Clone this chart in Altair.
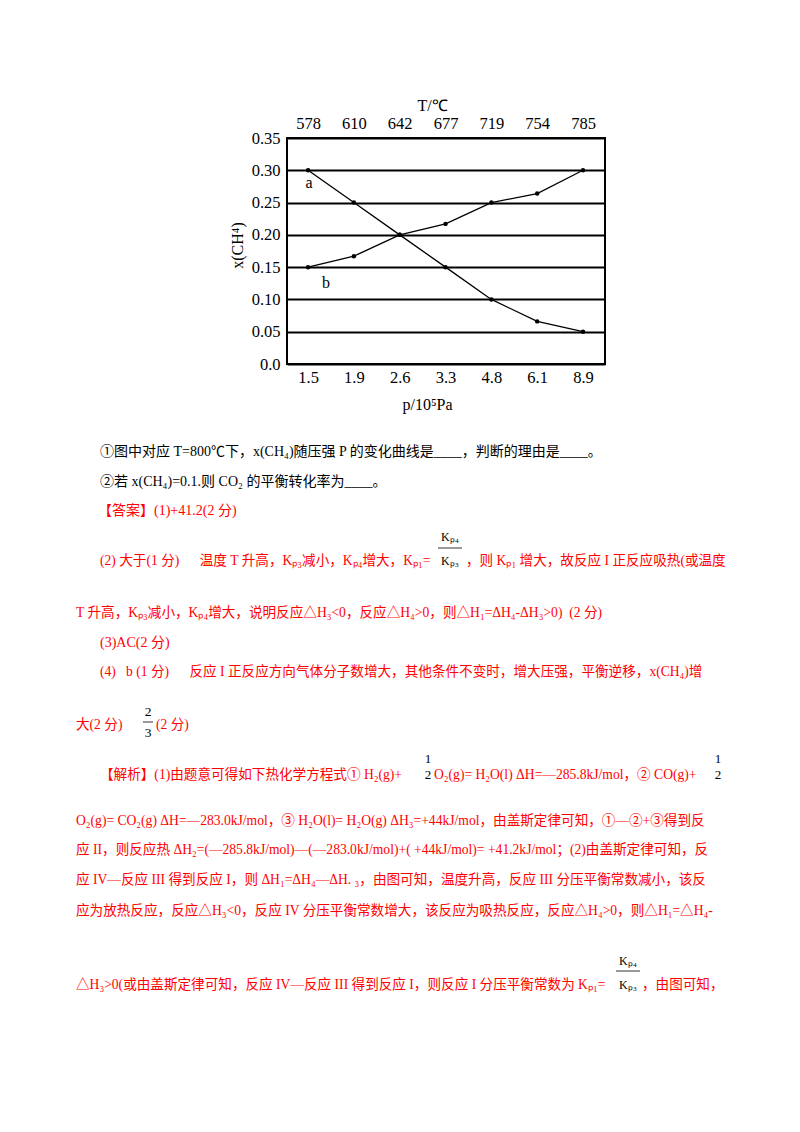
import json
import altair as alt
import pandas as pd

# ---------------- data ----------------
pressures = ["1.5", "1.9", "2.6", "3.3", "4.8", "6.1", "8.9"]
temperatures = ["578", "610", "642", "677", "719", "754", "785"]
curve_a = [0.30, 0.25, 0.20, 0.15, 0.10, 0.066, 0.05]
curve_b = [0.15, 0.167, 0.20, 0.217, 0.25, 0.264, 0.30]
curve_names = ["a", "b"]
y_ticks = [0.0, 0.05, 0.10, 0.15, 0.20, 0.25, 0.30, 0.35]

x_title = "p/10⁵Pa"
top_title = "T/℃"
y_title = "x(CH⁴)"

NB = "\u00a0"
# page text (content only)
txt_q1 = "①图中对应 T=800℃下，x(CH₄)随压强 P 的变化曲线是____，判断的理由是____。"
txt_q2 = "②若 x(CH₄)=0.1.则 CO₂ 的平衡转化率为____。"
txt_ans1 = "【答案】(1)+41.2(2 分)"
txt_ans2a = "(2) 大于(1 分)" + NB * 6 + "温度 T 升高，Kₚ₃减小，Kₚ₄增大，Kₚ₁="
txt_ans2b = "，则 Kₚ₁ 增大，故反应 I 正反应吸热(或温度"
txt_ans2c = "T 升高，Kₚ₃减小，Kₚ₄增大，说明反应△H₃<0，反应△H₄>0，则△H₁=ΔH₄-ΔH₃>0)" + NB * 2 + "(2 分)"
txt_ans3 = "(3)AC(2 分)"
txt_ans4a = "(4)" + NB * 3 + "b (1 分)" + NB * 6 + "反应 I 正反应方向气体分子数增大，其他条件不变时，增大压强，平衡逆移，x(CH₄)增"
txt_ans4b = "大(2 分)"
txt_ans4c = "(2 分)"
frac_23 = ["2", "3"]
frac_12 = ["1", "2"]
frac_k = ["Kₚ₄", "Kₚ₃"]
txt_j1a = "【解析】(1)由题意可得如下热化学方程式① H₂(g)+"
txt_j1b = "O₂(g)= H₂O(l) ΔH=—285.8kJ/mol，② CO(g)+"
txt_j2 = "O₂(g)= CO₂(g) ΔH=—283.0kJ/mol，③ H₂O(l)= H₂O(g) ΔH₃=+44kJ/mol，由盖斯定律可知，①—②+③得到反"
txt_j3 = "应 II，则反应热 ΔH₂=(—285.8kJ/mol)—(—283.0kJ/mol)+( +44kJ/mol)= +41.2kJ/mol；(2)由盖斯定律可知，反"
txt_j4 = "应 IV—反应 III 得到反应 I，则 ΔH₁=ΔH₄—ΔH. ₃，由图可知，温度升高，反应 III 分压平衡常数减小，该反"
txt_j5 = "应为放热反应，反应△H₃<0，反应 IV 分压平衡常数增大，该反应为吸热反应，反应△H₄>0，则△H₁=△H₄-"
txt_j6a = "△H₃>0(或由盖斯定律可知，反应 IV—反应 III 得到反应 I，则反应 I 分压平衡常数为 Kₚ₁="
txt_j6b = "，由图可知，"

# ---------------- layout ----------------
PLOT_LEFT, PLOT_TOP, W, H = 287, 138, 318, 226
SERIF = "'Liberation Serif'"
BODY = "'Liberation Serif', 'Noto Sans CJK SC'"
RED = "#ff0000"
BLACK = "#000000"
FS = 13.6

rows = []
for i in range(len(pressures)):
    rows.append({"i": i, "curve": "a", "v": curve_a[i]})
    rows.append({"i": i, "curve": "b", "v": curve_b[i]})
df = pd.DataFrame(rows)
df_lab = pd.DataFrame({"i": [0, 0], "v": [curve_a[0], curve_b[0]], "curve": curve_names})

x_scale = alt.Scale(domain=[-0.46, 6.48], nice=False, zero=False)
y_scale = alt.Scale(domain=[0, 0.35], nice=False, zero=True)

bottom_axis = alt.Axis(
    orient="bottom", values=list(range(len(pressures))),
    labelExpr=json.dumps(pressures) + "[datum.value]",
    ticks=False, domain=False, grid=False,
    labelFontSize=16.5, labelPadding=5, labelColor=BLACK, labelFont=SERIF,
    title=x_title, titleFont=SERIF, titleFontSize=16, titleFontWeight="normal",
    titleColor=BLACK, titleX=140, titleY=40, titleBaseline="middle", titleAlign="center",
)
top_axis = alt.Axis(
    orient="top", values=list(range(len(temperatures))),
    labelExpr=json.dumps(temperatures) + "[datum.value]",
    ticks=False, domain=False, grid=False,
    labelFontSize=16.5, labelPadding=7, labelColor=BLACK, labelFont=SERIF,
    title=top_title, titleFont=SERIF, titleFontSize=16, titleFontWeight="normal",
    titleColor=BLACK, titleX=145, titleY=-33, titleBaseline="middle", titleAlign="center",
)
y_axis = alt.Axis(
    values=y_ticks,
    labelExpr="datum.value == 0 ? '0.0' : format(datum.value, '.2f')",
    ticks=False, domain=False, grid=True, gridColor=BLACK, gridWidth=2, gridOpacity=1,
    labelFontSize=16.5, labelPadding=7, labelColor=BLACK, labelFont=SERIF,
    title=y_title, titleFont=SERIF, titleFontSize=16, titleFontWeight="normal",
    titleColor=BLACK, titleX=-50, titleY=107, titleBaseline="middle", titleAlign="center",
)

Y = alt.Y("v:Q", scale=y_scale, axis=y_axis)

lines = alt.Chart(df).mark_line(color=BLACK, strokeWidth=1.3).encode(
    x=alt.X("i:Q", scale=x_scale, axis=bottom_axis),
    y=Y,
    detail="curve:N",
)
points = alt.Chart(df).mark_point(filled=True, color=BLACK, size=20, opacity=1).encode(
    x=alt.X("i:Q", scale=x_scale, axis=None),
    y=Y,
)
top = alt.Chart(df).mark_point(opacity=0).encode(
    x=alt.X("i:Q", scale=x_scale, axis=top_axis),
    y=Y,
)
lab_a = alt.Chart(df_lab).transform_filter("datum.curve == 'a'").mark_text(
    font=SERIF, fontSize=16, color=BLACK, dx=1, dy=13
).encode(x=alt.X("i:Q", scale=x_scale, axis=None), y=Y, text="curve:N")
lab_b = alt.Chart(df_lab).transform_filter("datum.curve == 'b'").mark_text(
    font=SERIF, fontSize=16, color=BLACK, dx=18, dy=16
).encode(x=alt.X("i:Q", scale=x_scale, axis=None), y=Y, text="curve:N")


def txt(s, X, Yp, color, size=FS, align="left"):
    return alt.Chart(alt.Data(values=[{}])).mark_text(
        text=s, align=align, baseline="middle", fontSize=size, color=color, font=BODY
    ).encode(x=alt.value(X - PLOT_LEFT), y=alt.value(Yp - PLOT_TOP))


def bar(X1, X2, Yp):
    return alt.Chart(alt.Data(values=[{}])).mark_rule(color=BLACK, strokeWidth=0.8).encode(
        x=alt.value(X1 - PLOT_LEFT), x2=alt.value(X2 - PLOT_LEFT), y=alt.value(Yp - PLOT_TOP)
    )


text_layers = [
    txt(txt_q1, 100, 452, BLACK, 14),
    txt(txt_q2, 100, 482, BLACK, 14),
    txt(txt_ans1, 98, 511, RED, 14),
    txt(txt_ans2a, 100, 561, RED),
    txt(frac_k[0], 450, 537, BLACK, 12, "center"),
    bar(438, 462, 548),
    txt(frac_k[1], 450, 561, BLACK, 12, "center"),
    txt(txt_ans2b, 466, 561, RED),
    txt(txt_ans2c, 76, 613, RED),
    txt(txt_ans3, 100, 643, RED, 14),
    txt(txt_ans4a, 100, 672, RED),
    txt(txt_ans4b, 76, 725, RED),
    txt(frac_23[0], 148, 712, BLACK, 13.5, "center"),
    bar(143, 153, 722),
    txt(frac_23[1], 148, 733, BLACK, 13.5, "center"),
    txt(txt_ans4c, 156, 725, RED),
    txt(txt_j1a, 100, 775, RED),
    txt(frac_12[0], 428, 759, BLACK, 13, "center"),
    txt(frac_12[1], 428, 775, BLACK, 13, "center"),
    txt(txt_j1b, 434, 775, RED),
    txt(frac_12[0], 718, 759, BLACK, 13, "center"),
    txt(frac_12[1], 718, 775, BLACK, 13, "center"),
    txt(txt_j2, 76, 821, RED),
    txt(txt_j3, 76, 850, RED),
    txt(txt_j4, 76, 880, RED),
    txt(txt_j5, 76, 911, RED),
    txt(txt_j6a, 76, 985, RED),
    txt(frac_k[0], 628, 961, BLACK, 12, "center"),
    bar(616, 640, 971),
    txt(frac_k[1], 628, 985, BLACK, 12, "center"),
    txt(txt_j6b, 642, 985, RED),
]

chart = alt.layer(lines, points, top, lab_a, lab_b, *text_layers).properties(
    width=W, height=H,
    autosize=alt.AutoSizeParams(type="none"),
    padding={"left": PLOT_LEFT - 8, "top": PLOT_TOP - 8, "right": 800 - 16 - (PLOT_LEFT - 8) - W,
             "bottom": 1116 - (PLOT_TOP - 8) - H},
    background="white",
).resolve_axis(x="independent").configure_view(stroke=BLACK, strokeWidth=2)

chart.save("out.html", embed_options={"renderer": "svg", "actions": False})
